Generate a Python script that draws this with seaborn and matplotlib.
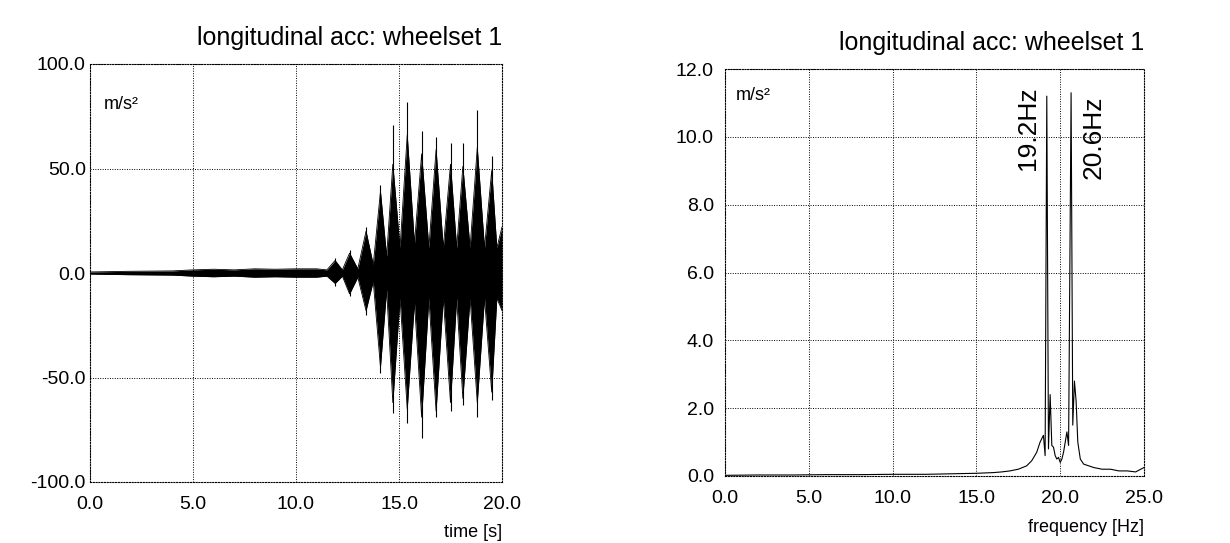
import matplotlib
matplotlib.use("Agg")
import matplotlib.pyplot as plt
import seaborn as sns

# longitudinal acceleration of wheelset 1

# time signal: envelope of the dense oscillation (upper / lower edge of the black band)
env_time = [0.0, 1.8, 4.0, 5.0, 6.0, 7.0, 8.0, 9.0, 10.0, 11.0, 11.5,
            11.9, 12.25, 12.6, 13.0, 13.4, 13.75, 14.1, 14.4, 14.7, 15.05,
            15.4, 15.75, 16.1, 16.45, 16.8, 17.15, 17.5, 17.8, 18.1, 18.45,
            18.8, 19.15, 19.5, 19.75, 20.0]
env_upper = [0.5, 0.8, 1.0, 1.5, 1.8, 1.5, 2.0, 1.8, 2.0, 2.0, 1.5,
             6, 1.5, 9.5, 2, 20, 4, 39, 8, 52, 12,
             66, 14, 57, 12, 59, 12, 52, 12, 51, 12,
             60, 12, 49, 12, 22]
env_lower = [-0.5, -0.8, -1.0, -1.5, -1.8, -1.5, -2.0, -1.8, -2.0, -2.0, -1.5,
             -5, -1.5, -10, -2, -18, -4, -45, -8, -62, -12,
             -65, -14, -69, -12, -66, -12, -62, -12, -60, -12,
             -62, -12, -57, -12, -18]

# single spikes sticking out of each burst
spike_time = [11.9, 12.6, 13.4, 14.1, 14.7, 15.4, 16.1, 16.8, 17.5, 18.1, 18.8, 19.5]
spike_top = [7, 11, 22, 42, 71, 82, 68, 65, 62, 62, 78, 56]
spike_bottom = [-6, -11, -20, -48, -67, -72, -79, -69, -66, -63, -69, -61]

# amplitude spectrum
freq = [0.0, 2.0, 4.0, 6.0, 8.0, 10.0, 12.0, 13.0, 14.0, 15.0, 16.0, 16.5,
        17.0, 17.5, 18.0, 18.3, 18.6, 18.8, 19.0, 19.1, 19.2, 19.3, 19.4,
        19.5, 19.6, 19.7, 19.8, 19.9, 20.0, 20.1, 20.2, 20.3, 20.4, 20.5,
        20.65, 20.75, 20.85, 20.95, 21.05, 21.2, 21.4, 21.7, 22.0, 22.5,
        23.0, 23.5, 24.0, 24.5, 25.0]
amp = [0.02, 0.03, 0.03, 0.04, 0.04, 0.05, 0.05, 0.06, 0.07, 0.08, 0.1, 0.12,
       0.15, 0.2, 0.3, 0.45, 0.7, 1.0, 1.2, 0.6, 11.2, 0.8, 2.4,
       0.9, 0.85, 0.6, 0.5, 0.55, 0.4, 0.5, 0.7, 1.0, 1.3, 0.9,
       11.3, 1.5, 2.8, 2.2, 1.0, 0.5, 0.35, 0.3, 0.25, 0.2,
       0.2, 0.15, 0.15, 0.12, 0.25]

peak_freqs = [18.1, 22.0]
peak_heights = [10.25, 10.0]
peak_labels = ["19.2Hz", "20.6Hz"]

time_ticks = [0.0, 5.0, 10.0, 15.0, 20.0]
acc_ticks = [-100.0, -50.0, 0.0, 50.0, 100.0]
freq_ticks = [0.0, 5.0, 10.0, 15.0, 20.0, 25.0]
spec_ticks = [0.0, 2.0, 4.0, 6.0, 8.0, 10.0, 12.0]

sns.set_theme(style="white")
plt.rcParams['font.family'] = ['Liberation Sans', 'DejaVu Sans']
plt.rcParams['text.color'] = 'black'

fig = plt.figure(figsize=(12.3, 5.43), dpi=100)
ax1 = fig.add_axes([90 / 1230, 61 / 543, 412 / 1230, 418 / 543])
ax2 = fig.add_axes([725 / 1230, 67 / 543, 419 / 1230, 407 / 543])

# left: time signal
ax1.fill_between(env_time, env_lower, env_upper, color='black', linewidth=0)
sns.lineplot(x=env_time, y=env_upper, ax=ax1, color='black', linewidth=0.6)
sns.lineplot(x=env_time, y=env_lower, ax=ax1, color='black', linewidth=0.6)
ax1.vlines(spike_time, spike_bottom, spike_top, color='black', linewidth=0.8)

# right: spectrum
sns.lineplot(x=freq, y=amp, ax=ax2, color='black', linewidth=0.8)
for f, h, lab in zip(peak_freqs, peak_heights, peak_labels):
    ax2.text(f, h, lab, rotation=90, ha='center', va='center', fontsize=19)

for ax, xt, yt, xl, xlab, ypad, lpad in [
        (ax1, time_ticks, acc_ticks, (0, 20), 'time [s]', 3, 8),
        (ax2, freq_ticks, spec_ticks, (0, 25), 'frequency [Hz]', 8, 9)]:
    ax.set_xlim(*xl)
    ax.set_ylim(yt[0], yt[-1])
    ax.set_xticks(xt)
    ax.set_xticklabels([f'{v:.1f}' for v in xt])
    ax.set_yticks(yt)
    ax.set_yticklabels([f'{v:.1f}' for v in yt])
    ax.tick_params(axis='both', length=0, labelsize=14, colors='black')
    ax.tick_params(axis='x', pad=10)
    ax.tick_params(axis='y', pad=ypad)
    ax.grid(True, color='black', linestyle=(0, (1, 1.5)), linewidth=0.7)
    for s in ax.spines.values():
        s.set_linestyle((0, (1, 1.5)))
        s.set_linewidth(0.8)
        s.set_color('black')
    ax.set_title('longitudinal acc: wheelset 1', loc='right', fontsize=18, pad=14,
                 color='black')
    ax.set_xlabel(xlab, loc='right', fontsize=13, labelpad=lpad, color='black')
    ax.set_ylabel('')

ax1.text(0.033, 0.904, 'm/s²', transform=ax1.transAxes, fontsize=13, va='center')
ax2.text(0.026, 0.934, 'm/s²', transform=ax2.transAxes, fontsize=13, va='center')

fig.savefig('out.png', dpi=100)
